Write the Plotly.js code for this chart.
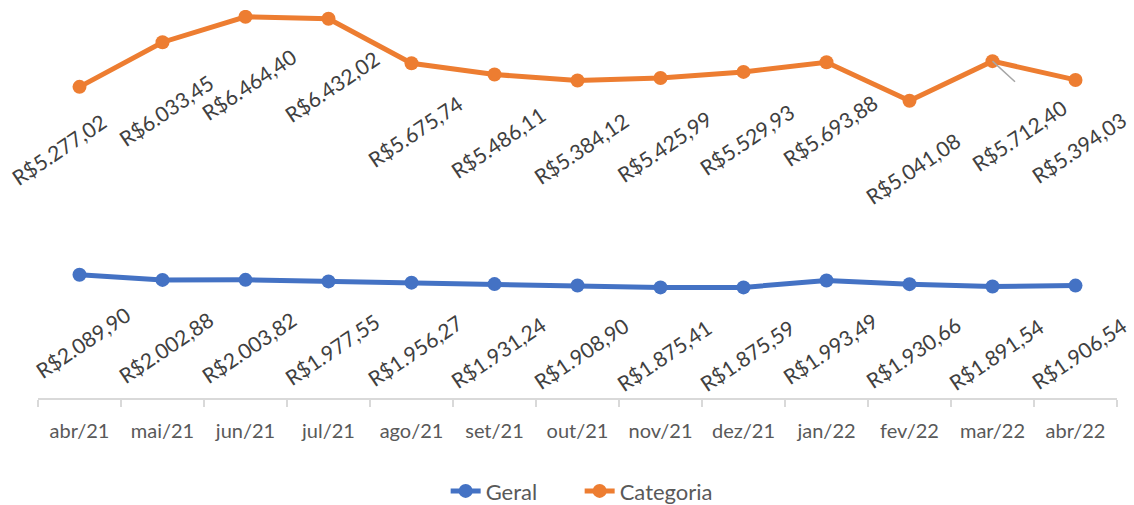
<!DOCTYPE html>
<html>
<head>
<meta charset="utf-8">
<script src="https://cdn.plot.ly/plotly-3.0.1.min.js"></script>
<style>html,body{margin:0;padding:0;background:#fff;}#chart{width:1134px;height:505px;}</style>
</head>
<body>
<div id="chart"></div>
<script>
const months = ["abr/21","mai/21","jun/21","jul/21","ago/21","set/21","out/21","nov/21","dez/21","jan/22","fev/22","mar/22","abr/22"];
const geral = [2089.90,2002.88,2003.82,1977.55,1956.27,1931.24,1908.90,1875.41,1875.59,1993.49,1930.66,1891.54,1906.54];
const categoria = [5277.02,6033.45,6464.40,6432.02,5675.74,5486.11,5384.12,5425.99,5529.93,5693.88,5041.08,5712.40,5394.03];

function brl(v){
  const parts = v.toFixed(2).split(".");
  const intp = parts[0].replace(/\B(?=(\d{3})+(?!\d))/g, ".");
  return "R$" + intp + "," + parts[1];
}

const FONT = "Lato, 'Open Sans', sans-serif";
const blue = "#4472C4", orange = "#ED7D31";

const traces = [
  {name:"Geral", x:months, y:geral, type:"scatter", mode:"lines+markers",
   line:{color:blue,width:5}, marker:{color:blue,size:14}},
  {name:"Categoria", x:months, y:categoria, type:"scatter", mode:"lines+markers",
   line:{color:orange,width:5}, marker:{color:orange,size:14}}
];

const defShift = {x:3, y:-68};
const specialCat = {0:{x:-21,y:-63}, 11:{x:26,y:-74,leader:true}};

const annotations = [];
function addLabels(vals, special){
  vals.forEach((v,i)=>{
    const s = (special && special[i]) || defShift;
    annotations.push({x:months[i], y:v, xref:"x", yref:"y", text:brl(v), textangle:-34,
      showarrow:false, xshift:s.x, yshift:s.y,
      font:{family:FONT, size:21, color:"#404040"}});
    if (s.leader){
      annotations.push({x:months[i], y:v, xref:"x", yref:"y", text:"",
        showarrow:true, arrowhead:0, arrowwidth:1.5, arrowcolor:"#a6a6a6",
        ax:24, ay:22, standoff:0, startstandoff:0});
    }
  });
}
addLabels(geral, null);
addLabels(categoria, specialCat);

const layout = {
  width:1134, height:505,
  margin:{l:38, r:17, t:10, b:107, autoexpand:false},
  paper_bgcolor:"#fff", plot_bgcolor:"#fff",
  showlegend:true,
  legend:{orientation:"h", x:0.502, xanchor:"center", y:-0.24, yanchor:"middle",
    entrywidth:89, entrywidthmode:"pixels",
    font:{family:FONT, size:22, color:"#595959"}},
  xaxis:{type:"category", range:[-0.5,12.5], showline:true, linecolor:"#d9d9d9", linewidth:1.5,
    ticks:"outside", tickson:"boundaries", ticklen:7, tickcolor:"#d9d9d9", tickwidth:1.5,
    showgrid:false, zeroline:false, ticklabelstandoff:14, automargin:false,
    tickfont:{family:FONT, size:20, color:"#595959"}},
  yaxis:{range:[0,6580], visible:false, showgrid:false, zeroline:false},
  annotations:annotations
};

Plotly.newPlot("chart", traces, layout, {displayModeBar:false, staticPlot:true});
</script>
</body>
</html>
